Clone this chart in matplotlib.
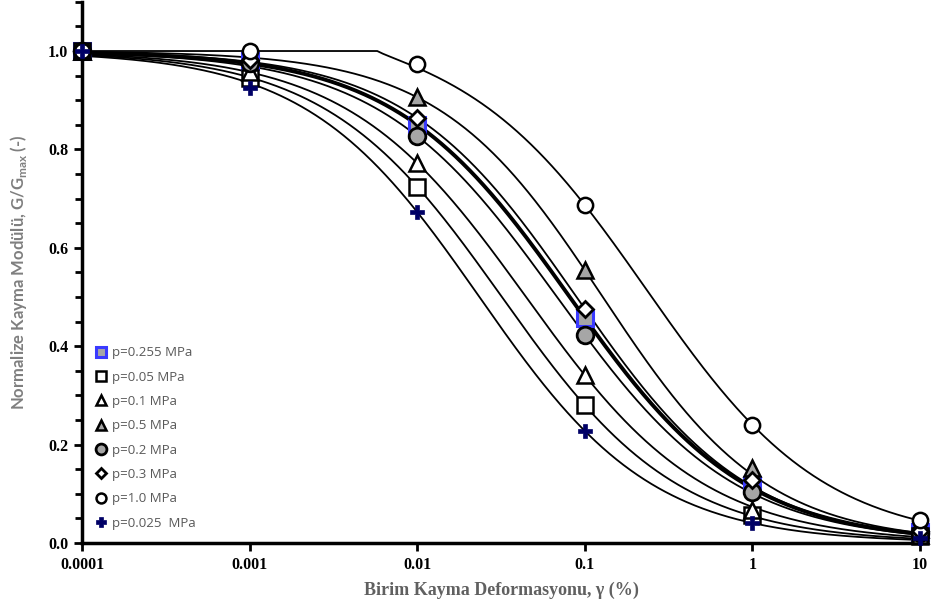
import numpy as np
import matplotlib
matplotlib.use("Agg")
import matplotlib.pyplot as plt
from matplotlib.ticker import MultipleLocator, FixedLocator, NullLocator

# Test strains (%)
strain = [0.0001, 0.001, 0.01, 0.1, 1, 10]

# Measured G/Gmax for each confining pressure
labels = ["p=0.255 MPa", "p=0.05 MPa", "p=0.1 MPa", "p=0.5 MPa",
          "p=0.2 MPa", "p=0.3 MPa", "p=1.0 MPa", "p=0.025  MPa"]
g_0255 = [1.0, 0.980, 0.850, 0.457, 0.118, 0.022]
g_005 = [1.0, 0.945, 0.724, 0.280, 0.056, 0.015]
g_01 = [1.0, 0.957, 0.772, 0.341, 0.068, 0.017]
g_05 = [1.0, 0.990, 0.906, 0.555, 0.152, 0.028]
g_02 = [1.0, 0.975, 0.827, 0.423, 0.104, 0.020]
g_03 = [1.0, 0.982, 0.864, 0.476, 0.127, 0.024]
g_10 = [1.0, 1.000, 0.974, 0.687, 0.240, 0.046]
g_0025 = [1.0, 0.925, 0.673, 0.228, 0.041, 0.010]
series = [g_0255, g_005, g_01, g_05, g_02, g_03, g_10, g_0025]

# Hyperbolic fit parameters per pressure: reference strain, curvature, threshold strain
ref_strain = [0.0813, 0.0320, 0.0446, 0.128, 0.0682, 0.0892, 0.245, 0.0235]
curvature = [0.828, 0.829, 0.816, 0.888, 0.815, 0.845, 0.822, 0.843]
threshold = [0.0, 0.0, 0.0, 0.0, 0.0, 0.0, 0.0058, 0.0]

x_ticks = [0.0001, 0.001, 0.01, 0.1, 1, 10]
x_ticklabels = ["0.0001", "0.001", "0.01", "0.1", "1", "10"]

gray = "#a6a6a6"
styles = [
    dict(marker="s", mfc=gray, mec="#3a3aff", ms=11, mew=2.2),
    dict(marker="s", mfc="white", mec="black", ms=11, mew=1.8),
    dict(marker="^", mfc="white", mec="black", ms=11, mew=1.8),
    dict(marker="^", mfc=gray, mec="black", ms=11, mew=1.8),
    dict(marker="o", mfc=gray, mec="black", ms=12, mew=2.0),
    dict(marker="D", mfc="white", mec="black", ms=8.5, mew=2.0),
    dict(marker="o", mfc="white", mec="black", ms=11, mew=1.8),
    dict(marker="P", mfc="#000066", mec="#000066", ms=10, mew=0.5),
]
line_widths = [2.8, 1.3, 1.3, 1.3, 1.3, 1.3, 1.3, 1.3]

fig = plt.figure(figsize=(9.33, 6.06), dpi=100)
ax = fig.add_axes([0.088, 0.104, 0.898, 0.893])

gamma = np.logspace(-4, 1, 600)
for gr, a, gt, lw in zip(ref_strain, curvature, threshold, line_widths):
    shifted = np.clip(gamma - gt, 0, None)
    fit = 1.0 / (1.0 + (shifted / gr) ** a)
    ax.plot(gamma, fit, color="black", lw=lw, zorder=2)

handles = []
for vals, lab, st in zip(series, labels, styles):
    h, = ax.plot(strain, vals, ls="none", label=lab, zorder=3, clip_on=False, **st)
    handles.append(h)

ax.set_xscale("log")
ax.set_xlim(0.0001, 10)
ax.set_ylim(0, 1.1)
ax.xaxis.set_major_locator(FixedLocator(x_ticks))
ax.xaxis.set_minor_locator(NullLocator())
ax.set_xticklabels(x_ticklabels)
ax.yaxis.set_major_locator(FixedLocator([0.0, 0.2, 0.4, 0.6, 0.8, 1.0]))
ax.yaxis.set_minor_locator(MultipleLocator(0.05))
ax.set_yticklabels(["0.0", "0.2", "0.4", "0.6", "0.8", "1.0"])

for s in ["top", "right"]:
    ax.spines[s].set_visible(False)
for s in ["left", "bottom"]:
    ax.spines[s].set_linewidth(2.5)
ax.tick_params(axis="both", which="major", direction="out", length=6, width=2,
               labelsize=11.5, pad=4)
ax.tick_params(axis="y", which="minor", direction="out", length=5, width=2)
for t in ax.get_xticklabels() + ax.get_yticklabels():
    t.set_fontfamily("Liberation Serif")
    t.set_fontweight("bold")

ax.set_xlabel("Birim Kayma Deformasyonu, γ (%)", fontfamily="Liberation Serif",
              fontweight="bold", fontsize=13, color="#606060", labelpad=6)
ax.set_ylabel("Normalize Kayma Modülü, G/G$_{\\mathregular{max}}$ (-)",
              fontfamily="Lato", fontweight="bold", fontsize=12, color="#7f7f7f",
              labelpad=14)

leg = ax.legend(handles=handles, loc="upper left", bbox_to_anchor=(0.008, 0.378),
                frameon=False, fontsize=9.5, labelspacing=0.86, handlelength=0.6,
                handletextpad=0.55, borderaxespad=0.2, markerscale=0.65)
for t in leg.get_texts():
    t.set_color("#595959")
    t.set_fontfamily("Open Sans")

fig.savefig("out.png", dpi=100)
